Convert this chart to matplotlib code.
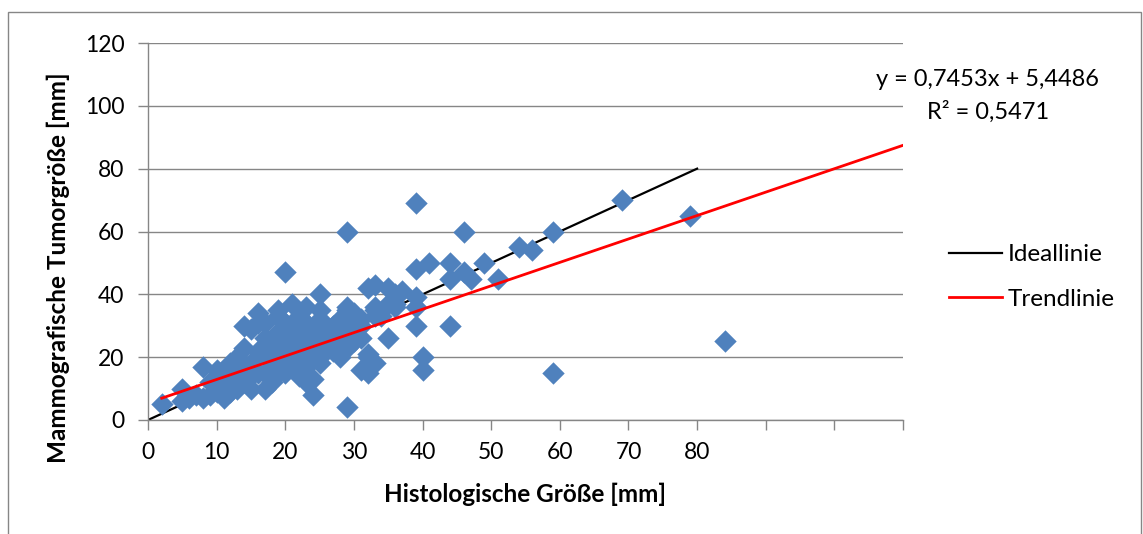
import matplotlib.pyplot as plt
from matplotlib.patches import Rectangle

plt.rcParams['font.family'] = ['Lato', 'DejaVu Sans']

# Histologische Größe (x) vs. mammografische Tumorgröße (y), in mm
hist_mm = [2, 5, 5, 6, 7, 8, 8, 9, 10, 10, 11, 11, 12, 12, 13, 14, 15, 15, 16, 16,
           17, 18, 20, 18, 19, 21, 21, 14, 18, 23, 26, 29, 32, 14, 17, 20, 23, 28, 16, 19,
           21, 23, 25, 29, 30, 33, 33, 20, 25, 32, 35, 29, 29, 39, 41, 44, 46, 44, 33, 36,
           37, 39, 33, 35, 36, 39, 29, 39, 44, 35, 32, 33, 31, 32, 40, 40, 26, 27, 28, 31,
           29, 30, 28, 29, 31, 27, 29, 30, 24, 23, 24, 22, 18, 15, 20, 25, 26, 28, 39, 46,
           69, 79, 84, 59, 59, 54, 56, 51, 49, 47,
           17, 18, 19, 20, 21, 22, 23, 24, 25, 22, 24, 26, 25, 20, 19, 17, 16, 15, 13, 12,
           14, 16, 19, 21, 23, 22, 24, 27, 26, 13, 10, 9, 11, 17, 20, 22, 24, 26, 27, 30,
           31, 34, 36, 12, 15, 19, 22]
mammo_mm = [5, 10, 6, 7, 8, 7, 17, 8, 10, 16, 12, 7, 9, 18, 20, 12, 16, 29, 31, 20,
            10, 13, 15, 25, 23, 28, 19, 23, 24, 26, 25, 23, 20, 30, 31, 31, 31, 31, 34, 35,
            37, 36, 35, 36, 33, 35, 33, 47, 40, 42, 42, 60, 4, 48, 50, 50, 47, 45, 43, 40,
            41, 39, 36, 37, 37, 36, 35, 30, 30, 26, 21, 18, 16, 15, 20, 16, 24, 22, 20, 26,
            33, 34, 32, 29, 32, 28, 27, 28, 8, 12, 13, 14, 12, 10, 17, 18, 22, 22, 69, 60,
            70, 65, 25, 15, 60, 55, 54, 45, 50, 45,
            20, 18, 20, 22, 24, 20, 22, 24, 26, 27, 28, 30, 32, 26, 28, 26, 22, 18, 14, 15,
            17, 15, 15, 17, 17, 30, 20, 25, 27, 10, 9, 12, 14, 15, 20, 23, 26, 23, 30, 25,
            30, 33, 36, 11, 14, 33, 33]

# Trendlinie aus der Regressionsgleichung
slope = 0.7453
intercept = 5.4486
r_squared = 0.5471

x_ticks = list(range(0, 111, 10))
x_labels = [str(t) if t <= 80 else '' for t in x_ticks]
y_ticks = list(range(0, 121, 20))

grey = '#868686'
blue = '#4F81BD'

fig = plt.figure(figsize=(11.43, 5.34), dpi=100)
ax = fig.add_axes([148 / 1143, 114 / 534, 755 / 1143, 377 / 534])

# chart border
fig.patches.append(Rectangle((8 / 1143, -0.01), 1133 / 1143, 0.9875,
                             transform=fig.transFigure, fill=False,
                             edgecolor=grey, linewidth=1))

ax.scatter(hist_mm, mammo_mm, marker='D', s=130, color=blue, linewidths=0, zorder=3)

ideal, = ax.plot([0, 80], [0, 80], color='black', linewidth=1.6, zorder=2.5,
                 label='Ideallinie')
x0, x1 = min(hist_mm), 110
trend, = ax.plot([x0, x1], [slope * x0 + intercept, slope * x1 + intercept],
                 color='#FF0000', linewidth=2, zorder=4, label='Trendlinie')

ax.set_xlim(0, 110)
ax.set_ylim(0, 120)
ax.set_xticks(x_ticks)
ax.set_xticklabels(x_labels)
ax.set_yticks(y_ticks)
ax.tick_params(axis='both', direction='out', length=7, width=1, color=grey,
               labelsize=16.5)
ax.tick_params(axis='x', pad=9)
ax.tick_params(axis='y', pad=10)
ax.yaxis.grid(True, color=grey, linewidth=1)
ax.set_axisbelow(True)
for side in ('top', 'right'):
    ax.spines[side].set_visible(False)
for side in ('left', 'bottom'):
    ax.spines[side].set_color(grey)
    ax.spines[side].set_linewidth(1)

ax.set_xlabel('Histologische Größe [mm]', fontsize=17.5, fontweight='bold', labelpad=14)
ax.set_ylabel('Mammografische Tumorgröße [mm]', fontsize=17.5, fontweight='bold')
ax.yaxis.set_label_coords(-0.103, 0.405)

fig.text(988 / 1143, 1 - 80 / 534,
         f'y = {slope:.4f}x + {intercept:.4f}'.replace('.', ','),
         ha='center', va='center', fontsize=17)
fig.text(988 / 1143, 1 - 112 / 534,
         f'R² = {r_squared:.4f}'.replace('.', ','),
         ha='center', va='center', fontsize=17)

fig.legend(handles=[ideal, trend], loc='center left',
           bbox_to_anchor=(949 / 1143, 1 - 277 / 534), frameon=False,
           fontsize=17.5, handlelength=2.2, handletextpad=0.2,
           labelspacing=0.95, borderpad=0, borderaxespad=0)

fig.savefig('out.png', dpi=100)
